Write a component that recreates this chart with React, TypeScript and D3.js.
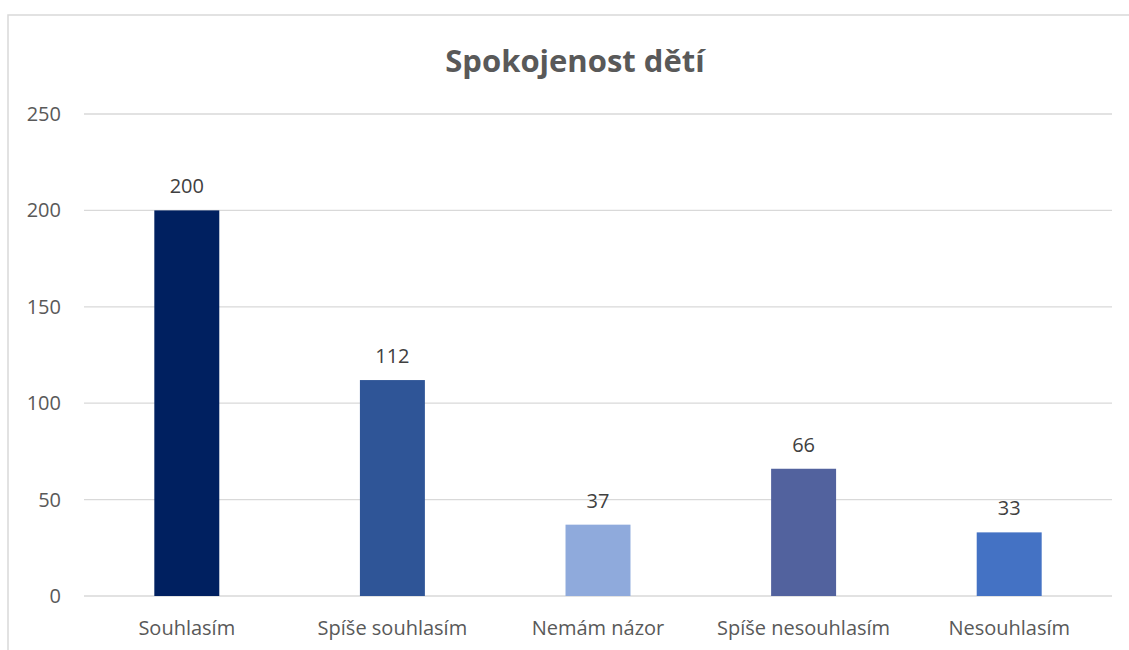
import React from "react";
import * as d3 from "d3";

const categories = ["Souhlasím", "Spíše souhlasím", "Nemám názor", "Spíše nesouhlasím", "Nesouhlasím"];
const values = [200, 112, 37, 66, 33];
const colors = ["#002060", "#2F5597", "#8FAADC", "#52629E", "#4472C4"];
const yTicks = [0, 50, 100, 150, 200, 250];
const title = "Spokojenost dětí";

const W = 1129;
const H = 650;
const left = 84;
const right = 1112;
const top = 114;
const bottom = 596;

export default function App() {
  const x = d3.scaleBand<string>().domain(categories).range([left, right]).padding(0);
  const y = d3.scaleLinear().domain([0, 250]).range([bottom, top]);
  const barW = x.bandwidth() * 0.316;
  const font = "'Open Sans', 'Noto Sans', sans-serif";
  return (
    <svg width={W} height={H} style={{ position: "absolute", left: 0, top: 0 }}>
      <rect x={0} y={0} width={W} height={H} fill="#fff" />
      <rect x={8} y={15} width={W + 20} height={H + 20} fill="#fff" stroke="#D9D9D9" strokeWidth={1.5} />
      <text x={575} y={72} textAnchor="middle" fontFamily={font} fontWeight="bold" fontSize={31} fill="#595959">
        {title}
      </text>
      {yTicks.map((t) => (
        <g key={t}>
          <line x1={left} x2={right} y1={y(t)} y2={y(t)} stroke="#D9D9D9" strokeWidth={1.3} />
          <text x={61} y={y(t)} dy="0.35em" textAnchor="end" fontFamily={font} fontSize={20} fill="#595959">
            {t}
          </text>
        </g>
      ))}
      {categories.map((c, i) => {
        const cx = (x(c) as number) + x.bandwidth() / 2;
        return (
          <g key={c}>
            <rect x={cx - barW / 2} y={y(values[i])} width={barW} height={y(0) - y(values[i])} fill={colors[i]} />
            <text x={cx} y={y(values[i]) - 24} dy="0.35em" textAnchor="middle" fontFamily={font} fontSize={20} fill="#404040">
              {values[i]}
            </text>
            <text x={cx} y={628} dy="0.35em" textAnchor="middle" fontFamily={font} fontSize={20} fill="#595959">
              {c}
            </text>
          </g>
        );
      })}
    </svg>
  );
}
